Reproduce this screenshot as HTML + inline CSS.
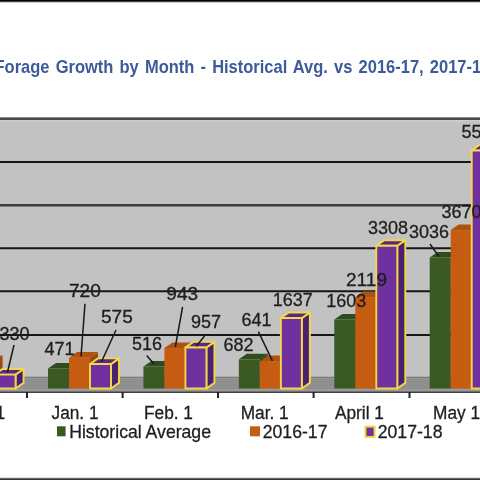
<!DOCTYPE html>
<html><head><meta charset="utf-8"><style>
html,body{margin:0;padding:0;background:#fff;width:480px;height:480px;overflow:hidden}
svg{display:block;will-change:transform;font-family:"Liberation Sans",sans-serif}
</style></head><body>
<svg width="480" height="480" viewBox="0 0 480 480">
<rect x="0" y="0" width="480" height="480" fill="#ffffff"/>
<rect x="0" y="0" width="480" height="1" fill="#000"/>
<rect x="0" y="1" width="480" height="1" fill="#444"/>
<rect x="0" y="2" width="480" height="1" fill="#c8c8c8"/>
<text transform="translate(-5.48,73.2) scale(0.943,1)" font-size="17.5" font-weight="bold" word-spacing="1.65" fill="#3b5b9b">Forage Growth by Month - Historical Avg. vs 2016-17, 2017-18</text>
<rect x="0" y="117" width="480" height="261" fill="#c2c2c2"/>
<line x1="0" y1="118.75" x2="480" y2="118.75" stroke="#4a4a4a" stroke-width="2.5"/>
<rect x="0" y="120" width="480" height="1.5" fill="#cdcdcd"/>
<line x1="0" y1="162" x2="480" y2="162" stroke="#161616" stroke-width="2"/>
<line x1="0" y1="248.2" x2="480" y2="248.2" stroke="#161616" stroke-width="2"/>
<line x1="0" y1="291.2" x2="480" y2="291.2" stroke="#161616" stroke-width="2"/>
<line x1="0" y1="335" x2="480" y2="335" stroke="#161616" stroke-width="2"/>
<line x1="0" y1="205.3" x2="480" y2="205.3" stroke="#3c3c3c" stroke-width="2.4"/>
<rect x="0" y="376.75" width="480" height="2" fill="#7a7a7a"/>
<rect x="0" y="378.75" width="480" height="10.25" fill="#8f8f8f"/>
<rect x="0" y="389" width="480" height="2.5" fill="#9a9a9a"/>
<rect x="0" y="391.5" width="480" height="1.3" fill="#111"/>
<rect x="26.00" y="392" width="2" height="6" fill="#222"/>
<rect x="121.60" y="392" width="2" height="6" fill="#222"/>
<rect x="217.00" y="392" width="2" height="6" fill="#222"/>
<rect x="312.60" y="392" width="2" height="6" fill="#222"/>
<rect x="408.50" y="392" width="2" height="6" fill="#222"/>
<path d="M-26.43,367.23 L-18.43,361.62 L-18.43,382.90 L-26.43,388.50 Z" fill="#2a4519"/>
<path d="M-47.43,367.23 L-39.43,361.62 L-18.43,361.62 L-26.43,367.23 Z" fill="#2f4c1d"/>
<rect x="-47.43" y="367.23" width="21.00" height="21.27" fill="#3a5923"/>
<path d="M-5.43,361.17 L2.57,355.57 L2.57,382.90 L-5.43,388.50 Z" fill="#9e480e"/>
<path d="M-26.43,361.17 L-18.43,355.57 L2.57,355.57 L-5.43,361.17 Z" fill="#b0520f"/>
<rect x="-26.43" y="361.17" width="21.00" height="27.33" fill="#c65b12"/>
<path d="M15.57,374.58 L23.57,368.98 L23.57,382.90 L15.57,388.50 Z" fill="#4a2070" stroke="#f0d848" stroke-width="1.9" stroke-linejoin="round"/>
<path d="M-5.43,374.58 L2.57,368.98 L23.57,368.98 L15.57,374.58 Z" fill="#5a2786" stroke="#f0d848" stroke-width="1.9" stroke-linejoin="round"/>
<rect x="-5.43" y="374.58" width="21.00" height="13.92" fill="#70309e" stroke="#f0d848" stroke-width="1.9" stroke-linejoin="round"/>
<path d="M69.00,368.48 L77.00,362.88 L77.00,382.90 L69.00,388.50 Z" fill="#2a4519"/>
<path d="M48.00,368.48 L56.00,362.88 L77.00,362.88 L69.00,368.48 Z" fill="#2f4c1d"/>
<rect x="48.00" y="368.48" width="21.00" height="20.02" fill="#3a5923"/>
<path d="M90.00,357.71 L98.00,352.11 L98.00,382.90 L90.00,388.50 Z" fill="#9e480e"/>
<path d="M69.00,357.71 L77.00,352.11 L98.00,352.11 L90.00,357.71 Z" fill="#b0520f"/>
<rect x="69.00" y="357.71" width="21.00" height="30.79" fill="#c65b12"/>
<path d="M111.00,363.98 L119.00,358.38 L119.00,382.90 L111.00,388.50 Z" fill="#4a2070" stroke="#f0d848" stroke-width="1.9" stroke-linejoin="round"/>
<path d="M90.00,363.98 L98.00,358.38 L119.00,358.38 L111.00,363.98 Z" fill="#5a2786" stroke="#f0d848" stroke-width="1.9" stroke-linejoin="round"/>
<rect x="90.00" y="363.98" width="21.00" height="24.52" fill="#70309e" stroke="#f0d848" stroke-width="1.9" stroke-linejoin="round"/>
<path d="M164.43,366.53 L172.43,360.93 L172.43,382.90 L164.43,388.50 Z" fill="#2a4519"/>
<path d="M143.43,366.53 L151.43,360.93 L172.43,360.93 L164.43,366.53 Z" fill="#2f4c1d"/>
<rect x="143.43" y="366.53" width="21.00" height="21.97" fill="#3a5923"/>
<path d="M185.43,348.07 L193.43,342.47 L193.43,382.90 L185.43,388.50 Z" fill="#9e480e"/>
<path d="M164.43,348.07 L172.43,342.47 L193.43,342.47 L185.43,348.07 Z" fill="#b0520f"/>
<rect x="164.43" y="348.07" width="21.00" height="40.43" fill="#c65b12"/>
<path d="M206.43,347.46 L214.43,341.86 L214.43,382.90 L206.43,388.50 Z" fill="#4a2070" stroke="#f0d848" stroke-width="1.9" stroke-linejoin="round"/>
<path d="M185.43,347.46 L193.43,341.86 L214.43,341.86 L206.43,347.46 Z" fill="#5a2786" stroke="#f0d848" stroke-width="1.9" stroke-linejoin="round"/>
<rect x="185.43" y="347.46" width="21.00" height="41.04" fill="#70309e" stroke="#f0d848" stroke-width="1.9" stroke-linejoin="round"/>
<path d="M259.86,359.35 L267.86,353.75 L267.86,382.90 L259.86,388.50 Z" fill="#2a4519"/>
<path d="M238.86,359.35 L246.86,353.75 L267.86,353.75 L259.86,359.35 Z" fill="#2f4c1d"/>
<rect x="238.86" y="359.35" width="21.00" height="29.15" fill="#3a5923"/>
<path d="M280.86,361.13 L288.86,355.53 L288.86,382.90 L280.86,388.50 Z" fill="#9e480e"/>
<path d="M259.86,361.13 L267.86,355.53 L288.86,355.53 L280.86,361.13 Z" fill="#b0520f"/>
<rect x="259.86" y="361.13" width="21.00" height="27.37" fill="#c65b12"/>
<path d="M301.86,318.05 L309.86,312.45 L309.86,382.90 L301.86,388.50 Z" fill="#4a2070" stroke="#f0d848" stroke-width="1.9" stroke-linejoin="round"/>
<path d="M280.86,318.05 L288.86,312.45 L309.86,312.45 L301.86,318.05 Z" fill="#5a2786" stroke="#f0d848" stroke-width="1.9" stroke-linejoin="round"/>
<rect x="280.86" y="318.05" width="21.00" height="70.45" fill="#70309e" stroke="#f0d848" stroke-width="1.9" stroke-linejoin="round"/>
<path d="M355.29,319.52 L363.29,313.92 L363.29,382.90 L355.29,388.50 Z" fill="#2a4519"/>
<path d="M334.29,319.52 L342.29,313.92 L363.29,313.92 L355.29,319.52 Z" fill="#2f4c1d"/>
<rect x="334.29" y="319.52" width="21.00" height="68.98" fill="#3a5923"/>
<path d="M376.29,297.20 L384.29,291.60 L384.29,382.90 L376.29,388.50 Z" fill="#9e480e"/>
<path d="M355.29,297.20 L363.29,291.60 L384.29,291.60 L376.29,297.20 Z" fill="#b0520f"/>
<rect x="355.29" y="297.20" width="21.00" height="91.30" fill="#c65b12"/>
<path d="M397.29,245.78 L405.29,240.18 L405.29,382.90 L397.29,388.50 Z" fill="#4a2070" stroke="#f0d848" stroke-width="1.9" stroke-linejoin="round"/>
<path d="M376.29,245.78 L384.29,240.18 L405.29,240.18 L397.29,245.78 Z" fill="#5a2786" stroke="#f0d848" stroke-width="1.9" stroke-linejoin="round"/>
<rect x="376.29" y="245.78" width="21.00" height="142.72" fill="#70309e" stroke="#f0d848" stroke-width="1.9" stroke-linejoin="round"/>
<path d="M450.72,257.54 L458.72,251.94 L458.72,382.90 L450.72,388.50 Z" fill="#2a4519"/>
<path d="M429.72,257.54 L437.72,251.94 L458.72,251.94 L450.72,257.54 Z" fill="#2f4c1d"/>
<rect x="429.72" y="257.54" width="21.00" height="130.96" fill="#3a5923"/>
<path d="M471.72,230.12 L479.72,224.52 L479.72,382.90 L471.72,388.50 Z" fill="#9e480e"/>
<path d="M450.72,230.12 L458.72,224.52 L479.72,224.52 L471.72,230.12 Z" fill="#b0520f"/>
<rect x="450.72" y="230.12" width="21.00" height="158.38" fill="#c65b12"/>
<path d="M492.72,150.46 L500.72,144.86 L500.72,382.90 L492.72,388.50 Z" fill="#4a2070" stroke="#f0d848" stroke-width="1.9" stroke-linejoin="round"/>
<path d="M471.72,150.46 L479.72,144.86 L500.72,144.86 L492.72,150.46 Z" fill="#5a2786" stroke="#f0d848" stroke-width="1.9" stroke-linejoin="round"/>
<rect x="471.72" y="150.46" width="21.00" height="238.04" fill="#70309e" stroke="#f0d848" stroke-width="1.9" stroke-linejoin="round"/>
<line x1="14" y1="345" x2="7.4" y2="372.5" stroke="#1a1a1a" stroke-width="1.5"/>
<line x1="85" y1="303.75" x2="81.0" y2="356.5" stroke="#1a1a1a" stroke-width="1.5"/>
<line x1="116" y1="330" x2="101.6" y2="361.5" stroke="#1a1a1a" stroke-width="1.5"/>
<line x1="146.7" y1="355.4" x2="154.2" y2="364.2" stroke="#1a1a1a" stroke-width="1.5"/>
<line x1="182.6" y1="307" x2="175.3" y2="347" stroke="#1a1a1a" stroke-width="1.5"/>
<line x1="204.5" y1="336" x2="196.4" y2="346.3" stroke="#1a1a1a" stroke-width="1.5"/>
<line x1="258.4" y1="331.7" x2="272.4" y2="360.8" stroke="#1a1a1a" stroke-width="1.5"/>
<line x1="430" y1="244" x2="439" y2="256.7" stroke="#1a1a1a" stroke-width="1.5"/>
<text transform="translate(-0.50,340.30) scale(1.0,1)" font-size="18" fill="#1e1e1e" stroke="#1e1e1e" stroke-width="0.3">330</text>
<text transform="translate(44.60,355.00) scale(1.0,1)" font-size="18" fill="#1e1e1e" stroke="#1e1e1e" stroke-width="0.3">471</text>
<text transform="translate(69.00,297.20) scale(1.06,1)" font-size="18" fill="#1e1e1e" stroke="#1e1e1e" stroke-width="0.3">720</text>
<text transform="translate(101.00,322.90) scale(1.06,1)" font-size="18" fill="#1e1e1e" stroke="#1e1e1e" stroke-width="0.3">575</text>
<text transform="translate(132.00,349.60) scale(1.0,1)" font-size="18" fill="#1e1e1e" stroke="#1e1e1e" stroke-width="0.3">516</text>
<text transform="translate(166.30,299.70) scale(1.06,1)" font-size="18" fill="#1e1e1e" stroke="#1e1e1e" stroke-width="0.3">943</text>
<text transform="translate(191.00,328.10) scale(1.0,1)" font-size="18" fill="#1e1e1e" stroke="#1e1e1e" stroke-width="0.3">957</text>
<text transform="translate(223.50,351.30) scale(1.0,1)" font-size="18" fill="#1e1e1e" stroke="#1e1e1e" stroke-width="0.3">682</text>
<text transform="translate(241.40,325.80) scale(1.0,1)" font-size="18" fill="#1e1e1e" stroke="#1e1e1e" stroke-width="0.3">641</text>
<text transform="translate(272.70,306.40) scale(1.0,1)" font-size="18" fill="#1e1e1e" stroke="#1e1e1e" stroke-width="0.3">1637</text>
<text transform="translate(326.30,306.80) scale(1.0,1)" font-size="18" fill="#1e1e1e" stroke="#1e1e1e" stroke-width="0.3">1603</text>
<text transform="translate(346.00,285.50) scale(1.06,1)" font-size="18" fill="#1e1e1e" stroke="#1e1e1e" stroke-width="0.3">2119</text>
<text transform="translate(368.00,234.00) scale(1.0,1)" font-size="18" fill="#1e1e1e" stroke="#1e1e1e" stroke-width="0.3">3308</text>
<text transform="translate(409.00,238.30) scale(1.0,1)" font-size="18" fill="#1e1e1e" stroke="#1e1e1e" stroke-width="0.3">3036</text>
<text transform="translate(441.50,217.50) scale(1.0,1)" font-size="18" fill="#1e1e1e" stroke="#1e1e1e" stroke-width="0.3">3670</text>
<text transform="translate(461.50,138.30) scale(1.0,1)" font-size="18" fill="#1e1e1e" stroke="#1e1e1e" stroke-width="0.3">5512</text>
<text transform="translate(-4.50,419.40) scale(0.96,1)" font-size="18" fill="#1e1e1e" stroke="#1e1e1e" stroke-width="0.3">1</text>
<text transform="translate(51.50,419.40) scale(0.96,1)" font-size="18" fill="#1e1e1e" stroke="#1e1e1e" stroke-width="0.3">Jan. 1</text>
<text transform="translate(144.00,419.40) scale(0.96,1)" font-size="18" fill="#1e1e1e" stroke="#1e1e1e" stroke-width="0.3">Feb. 1</text>
<text transform="translate(240.70,419.40) scale(0.96,1)" font-size="18" fill="#1e1e1e" stroke="#1e1e1e" stroke-width="0.3">Mar. 1</text>
<text transform="translate(335.00,419.40) scale(0.96,1)" font-size="18" fill="#1e1e1e" stroke="#1e1e1e" stroke-width="0.3">April 1</text>
<text transform="translate(433.00,419.40) scale(0.96,1)" font-size="18" fill="#1e1e1e" stroke="#1e1e1e" stroke-width="0.3">May 1</text>
<rect x="57" y="426.3" width="8.6" height="10" fill="#3a5923"/>
<text transform="translate(69.20,437.50) scale(0.98,1)" font-size="18" fill="#1e1e1e" stroke="#1e1e1e" stroke-width="0.3">Historical Average</text>
<rect x="250" y="426.3" width="10" height="10" fill="#c65b12"/>
<text transform="translate(262.75,437.50) scale(0.98,1)" font-size="18" fill="#1e1e1e" stroke="#1e1e1e" stroke-width="0.3">2016-17</text>
<rect x="365.4" y="426.6" width="9.2" height="10.4" fill="#70309e" stroke="#f0d848" stroke-width="2"/>
<text transform="translate(377.75,437.50) scale(0.98,1)" font-size="18" fill="#1e1e1e" stroke="#1e1e1e" stroke-width="0.3">2017-18</text>
<rect x="0" y="477" width="480" height="1" fill="#dedede"/>
<rect x="0" y="478" width="480" height="1" fill="#686868"/>
<rect x="0" y="479" width="480" height="1" fill="#333"/>
</svg>
</body></html>
